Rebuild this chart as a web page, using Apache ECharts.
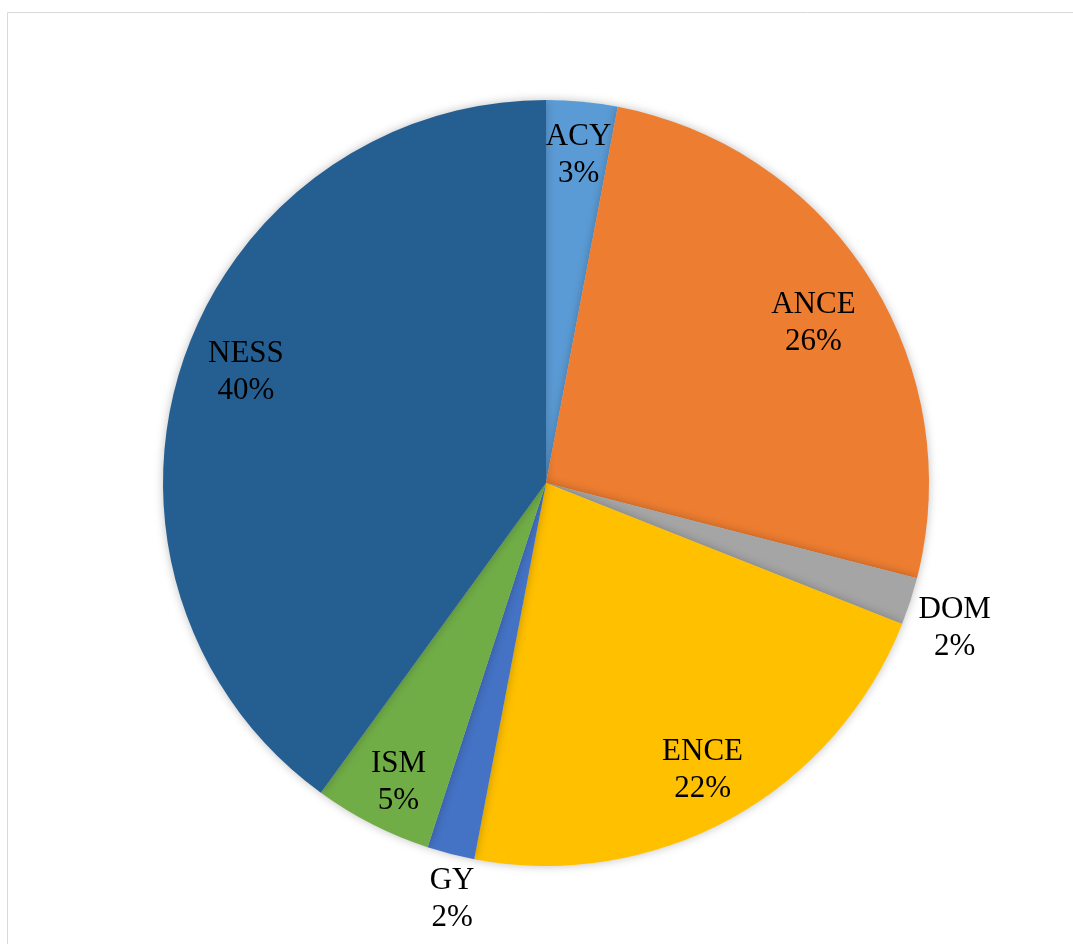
<!DOCTYPE html>
<html>
<head>
<meta charset="utf-8">
<style>
  html, body { margin: 0; padding: 0; background: #ffffff; }
  #chart { width: 1073px; height: 944px; }
</style>
<script src="https://cdn.jsdelivr.net/npm/echarts@6/dist/echarts.min.js"></script>
</head>
<body>
<div id="chart"></div>
<script>
// Share of each category (percent)
const categories = ['ACY', 'ANCE', 'DOM', 'ENCE', 'GY', 'ISM', 'NESS'];
const shares = [3, 26, 2, 22, 2, 5, 40];
const colors = ['#5B9BD5', '#ED7D31', '#A5A5A5', '#FFC000', '#4472C4', '#70AD47', '#255E91'];
// Small slices whose labels sit just outside the rim
const outsideLabels = ['DOM', 'GY'];

const center = [546, 483];
const R = 383;
const labelFont = {
  color: '#000000',
  fontFamily: '"Liberation Serif", "Times New Roman", serif',
  fontSize: 31,
  lineHeight: 37,
  align: 'center'
};
// Fine placement of individual labels (pixels)
const labelNudge = {
  ACY: [2, -4], ANCE: [-7, 15], DOM: [-4, 11], ENCE: [0, 3],
  GY: [14, -4], ISM: [0, 10], NESS: [9, -10]
};

const sliceData = categories.map((name, i) => ({
  name: name,
  value: shares[i],
  itemStyle: { color: colors[i] }
}));

// Transparent rings used only to carry the labels at the right distance
function labelRing(radius, pickInside) {
  return {
    type: 'pie',
    center: center,
    radius: radius,
    startAngle: 90,
    clockwise: true,
    silent: true,
    percentPrecision: 0,
    avoidLabelOverlap: false,
    labelLine: { show: false },
    itemStyle: { color: 'rgba(0,0,0,0)', borderWidth: 0 },
    emphasis: { disabled: true },
    z: 5,
    data: categories.map((name, i) => {
      const isOutside = outsideLabels.indexOf(name) >= 0;
      return {
        name: name,
        value: shares[i],
        label: {
          show: pickInside ? !isOutside : isOutside,
          position: 'inside',
          formatter: '{b}\n{d}%',
          offset: labelNudge[name] || [0, 0],
          ...labelFont
        }
      };
    })
  };
}

const chart = echarts.init(document.getElementById('chart'), null, { renderer: 'canvas' });
chart.setOption({
  backgroundColor: '#ffffff',
  animation: false,
  graphic: [{
    type: 'rect',
    shape: { x: 7.5, y: 12.5, width: 1200, height: 1200 },
    style: { fill: 'none', stroke: '#d9d9d9', lineWidth: 1 },
    silent: true,
    z: -10
  }],
  series: [
    {
      type: 'pie',
      center: center,
      radius: R,
      startAngle: 90,
      clockwise: true,
      avoidLabelOverlap: false,
      label: { show: false },
      labelLine: { show: false },
      itemStyle: {
        borderWidth: 0,
        shadowBlur: 10,
        shadowColor: 'rgba(0,0,0,0.25)',
        shadowOffsetX: 0,
        shadowOffsetY: 0
      },
      emphasis: { disabled: true },
      data: sliceData,
      z: 2
    },
    labelRing([261, R], true),
    labelRing([402, 460], false)
  ]
});
</script>
</body>
</html>
